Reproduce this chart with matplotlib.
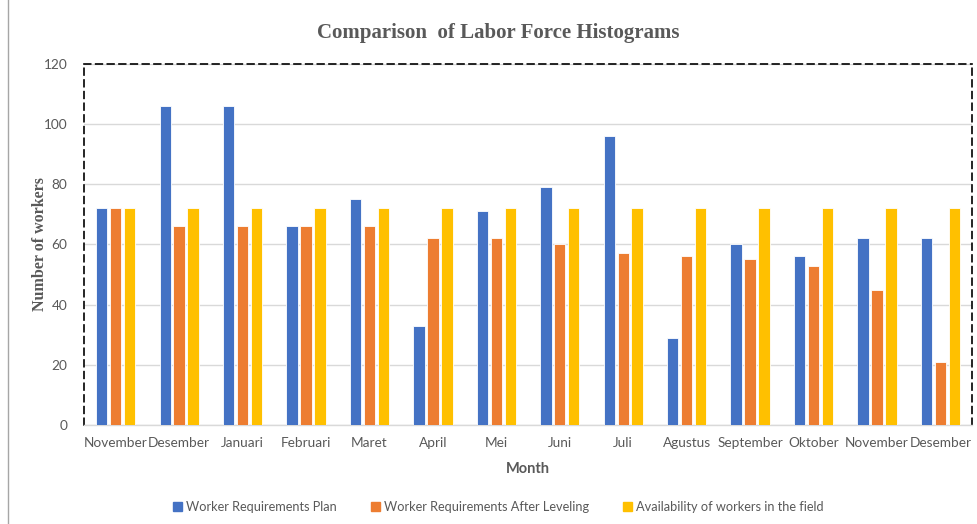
import matplotlib.pyplot as plt
import numpy as np
from matplotlib.lines import Line2D
from matplotlib.patches import Patch

months = ['November', 'Desember', 'Januari', 'Februari', 'Maret', 'April', 'Mei',
          'Juni', 'Juli', 'Agustus', 'September', 'Oktober', 'November', 'Desember']
plan = [72, 106, 106, 66, 75, 33, 71, 79, 96, 29, 60, 56, 62, 62]
after_leveling = [72, 66, 66, 66, 66, 62, 62, 60, 57, 56, 55, 53, 45, 21]
available = [72, 72, 72, 72, 72, 72, 72, 72, 72, 72, 72, 72, 72, 72]

series_names = ['Worker Requirements Plan', 'Worker Requirements After Leveling',
                'Availability of workers in the field']
colors = ['#4472C4', '#ED7D31', '#FFC000']
grey = '#595959'

fig = plt.figure(figsize=(9.77, 5.24), dpi=100)
ax = fig.add_axes([0.086, 0.189, 0.909, 0.689])

x = np.arange(len(months))
w = 0.18
step = 0.22
for i, (vals, c) in enumerate(zip([plan, after_leveling, available], colors)):
    ax.bar(x + (i - 1) * step, vals, width=w, color=c, edgecolor='white',
           linewidth=0.6, zorder=3)

ax.set_xlim(-0.5, len(months) - 0.5)
ax.set_ylim(0, 120)
ax.set_yticks(range(0, 121, 20))
ax.grid(axis='y', color='#D9D9D9', linewidth=1, zorder=0)
ax.set_xticks(x)
ax.set_xticklabels(months)
ax.tick_params(axis='both', length=0, labelsize=9.8, labelcolor=grey,
               labelfontfamily='Lato')
ax.tick_params(axis='y', pad=12)
ax.tick_params(axis='x', pad=9)

for side in ['left', 'top', 'right']:
    ax.spines[side].set_linestyle((0, (4, 3)))
    ax.spines[side].set_color('black')
    ax.spines[side].set_linewidth(1.2)
ax.spines['bottom'].set_color('#D9D9D9')
ax.spines['bottom'].set_linewidth(1)

ax.set_xlabel('Month', fontsize=10.5, fontweight='bold', color=grey,
              family='Lato', labelpad=9)
ax.set_ylabel('Number of workers', fontsize=11.5, fontweight='bold', color=grey,
              family='Liberation Serif', labelpad=-3)

fig.text(0.51, 0.937, 'Comparison  of Labor Force Histograms', ha='center',
         va='center', fontsize=15, fontweight='bold', color=grey,
         family='Liberation Serif')

handles = [Patch(color=c) for c in colors]
fig.legend(handles, series_names, loc='center', bbox_to_anchor=(0.51, 0.033),
           ncol=3, frameon=False, handlelength=0.7,
           handleheight=0.7, handletextpad=0.3, columnspacing=2.7,
           labelcolor=grey, prop={'family': 'Lato', 'size': 9.2})

# chart frame line on the left
fig.add_artist(Line2D([0.008, 0.008], [0, 1], color='#A6A6A6', linewidth=1,
                      transform=fig.transFigure))

fig.savefig('out.png', dpi=100)
